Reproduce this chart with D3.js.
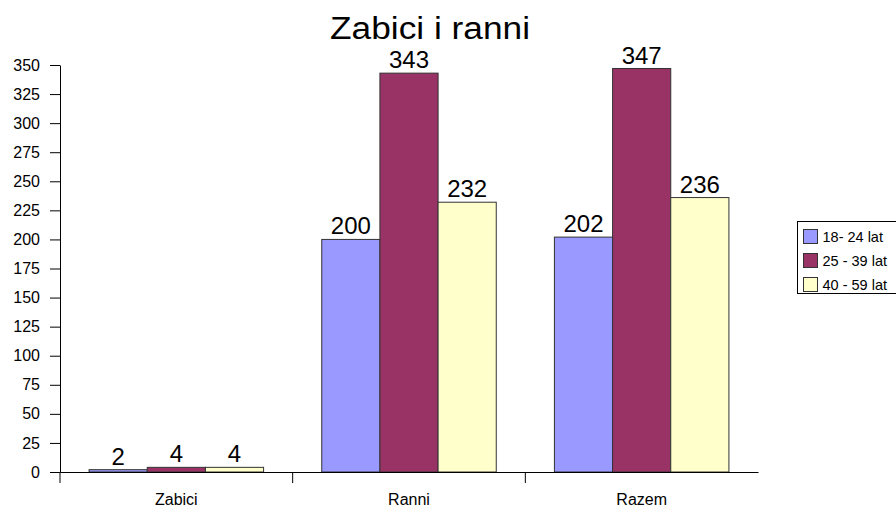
<!DOCTYPE html>
<html>
<head>
<meta charset="utf-8">
<script src="https://cdn.jsdelivr.net/npm/d3@7"></script>
<style>
  body { margin: 0; background: #fff; }
  svg { display: block; font-family: Arial, "Liberation Sans", sans-serif; }
</style>
</head>
<body>
<div id="viz"></div>
<script>
var categories = ["Zabici", "Ranni", "Razem"];
var seriesNames = ["18- 24 lat", "25 - 39 lat", "40 - 59 lat"];
var seriesColors = ["#9999ff", "#993366", "#ffffcc"];
var values18 = [2, 200, 202];
var values25 = [4, 343, 347];
var values40 = [4, 232, 236];
var yTicks = [0, 25, 50, 75, 100, 125, 150, 175, 200, 225, 250, 275, 300, 325, 350];

var series = [values18, values25, values40];

var wd = 896, ht = 508;
var margin = {top: 65, left: 60, right: 138, bottom: 36};
var width = wd - margin.left - margin.right,
  height = ht - margin.top - margin.bottom;

var svg = d3.select("#viz").append("svg").attr("width", wd).attr("height", ht);

var x = d3.scaleBand()
    .domain(categories)
    .range([0, width])
    .paddingInner(0)
    .paddingOuter(0);

var x1 = d3.scaleBand()
    .domain(d3.range(series.length))
    .range([0, x.bandwidth()])
    .paddingOuter(0.5)
    .paddingInner(0);

var y = d3.scaleLinear()
    .domain([0, 350])
    .range([height, 0]);

var g = svg.append("g")
    .attr("transform", "translate(" + margin.left + "," + margin.top + ")");

// title
svg.append("text")
    .attr("x", 430)
    .attr("y", 39)
    .attr("text-anchor", "middle")
    .attr("textLength", 200)
    .attr("lengthAdjust", "spacingAndGlyphs")
    .style("font-size", "31px")
    .text("Zabici i ranni");

// y axis
var yAxis = g.append("g")
    .call(d3.axisLeft(y).tickValues(yTicks).tickSize(10).tickPadding(10).tickSizeOuter(0));
yAxis.selectAll("text").style("font-size", "16px").attr("fill", "#000").attr("font-family", null);
yAxis.selectAll("line, path").attr("stroke", "#000");

// bars
series.forEach(function(vals, s){
  var bars = g.append("g");
  bars.selectAll("rect")
      .data(vals)
      .enter().append("rect")
      .attr("x", function(d, i){ return x(categories[i]) + x1(s); })
      .attr("y", function(d){ return y(d); })
      .attr("width", x1.bandwidth())
      .attr("height", function(d){ return height - y(d); })
      .style("fill", seriesColors[s])
      .style("stroke", "#333")
      .style("stroke-width", 1);

  bars.selectAll("text")
      .data(vals)
      .enter().append("text")
      .attr("x", function(d, i){ return x(categories[i]) + x1(s) + x1.bandwidth() / 2; })
      .attr("y", function(d){ return y(d) - 5; })
      .attr("text-anchor", "middle")
      .style("font-size", "24px")
      .text(function(d){ return d; });
});

// x axis
var xAxis = g.append("g")
    .attr("transform", "translate(0," + height + ")")
    .call(d3.axisBottom(x).tickSize(0).tickPadding(0).tickSizeOuter(0));
xAxis.selectAll("path").attr("stroke", "#000");
xAxis.selectAll("text")
    .attr("y", 33)
    .attr("dy", null)
    .attr("fill", "#000")
    .attr("font-family", null)
    .style("font-size", "16px");

// category separator ticks
xAxis.selectAll(".sep")
    .data(d3.range(categories.length + 1))
    .enter().append("line")
    .attr("x1", function(d){ return d < categories.length ? x(categories[d]) : width; })
    .attr("x2", function(d){ return d < categories.length ? x(categories[d]) : width; })
    .attr("y1", 0)
    .attr("y2", function(d){ return d == categories.length ? 0 : 11; })
    .attr("stroke", "#000");

// legend
var legend = svg.append("g")
    .attr("transform", "translate(797.5,221.5)");

legend.append("rect")
    .attr("width", 120)
    .attr("height", 72)
    .style("fill", "#fff")
    .style("stroke", "#000");

var item = legend.selectAll(".item")
    .data(seriesNames)
    .enter().append("g")
    .attr("class", "item")
    .attr("transform", function(d, i){ return "translate(6," + (8 + i * 24) + ")"; });

item.append("rect")
    .attr("width", 14)
    .attr("height", 14)
    .style("fill", function(d, i){ return seriesColors[i]; })
    .style("stroke", "#333");

item.append("text")
    .attr("x", 19)
    .attr("y", 12)
    .style("font-size", "14.5px")
    .text(function(d){ return d; });
</script>
</body>
</html>
